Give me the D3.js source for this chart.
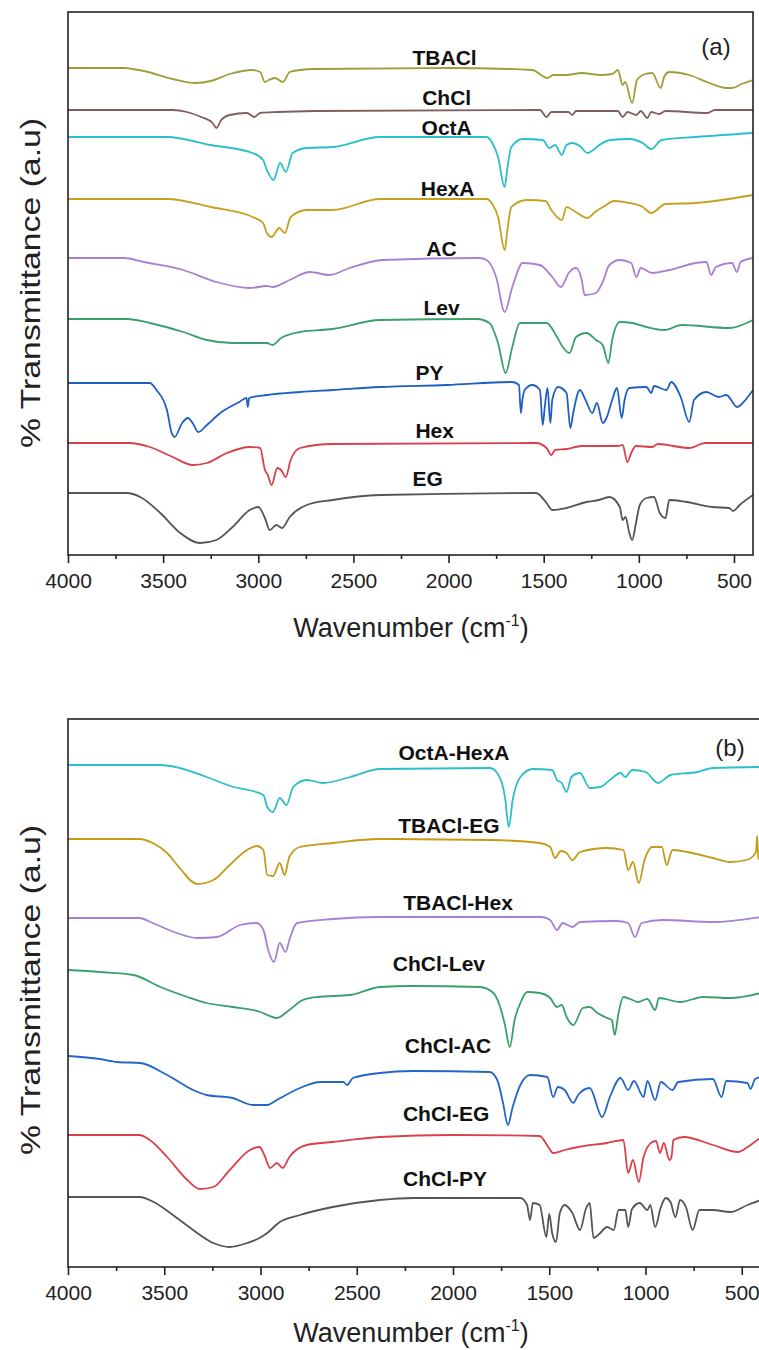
<!DOCTYPE html>
<html><head><meta charset="utf-8">
<script src="https://cdn.jsdelivr.net/npm/d3@7"></script>
<style>body{margin:0;background:#fff}svg{display:block}</style>
</head><body>
<script>
// ---------- DATA ----------
// x ticks (wavenumber, cm-1)
const majorTicks = [4000,3500,3000,2500,2000,1500,1000,500];
const minorTicks = [3750,3250,2750,2250,1750,1250,750];

// Panel (a)
const topNames   = ["TBACl","ChCl","OctA","HexA","AC","Lev","PY","Hex","EG"];
const topOffsets = [487,445,418,356,297,236,172,112,62];   // a.u. stacking offsets
const topLabelW  = [2021,2010,2010,2005,2037,2037,2100,2073,2110];
const topLabelV  = [498,458,428,367,307,248,183,125,77];
// spectra: [wavenumber, transmittance deviation (a.u.)]
const sTBACl = [[4000,0],[3700,0],[3660,-1],[3600,-3],[3450,-11],[3330,-15],[3250,-13],[3150,-6],[3030,-2],[2990,-4],[2965,-14],[2945,-12],[2913,-10],[2870,-14],[2835,-4],[2780,-2],[2700,-1],[2000,0],[1680,-1],[1560,-2],[1480,-10],[1450,-7],[1380,-7],[1300,-5],[1200,-7],[1140,-6],[1110,-2],[1085,-17],[1072,-14],[1035,-35],[1010,-12],[980,-7],[930,-5],[885,-20],[865,-8],[840,-4],[735,-7],[630,-15],[540,-20],[510,-20],[460,-16],[400,-12]];
const sChCl = [[4000,0],[3450,0],[3375,-2],[3300,-7],[3240,-13],[3220,-18],[3195,-10],[3150,-5],[3060,-3],[3020,-7],[2990,-3],[2900,-2],[2700,-1],[1520,0],[1485,-7],[1460,-2],[1370,-2],[1350,-5],[1330,-1],[1110,-1],[1085,-7],[1060,-2],[1013,-5],[990,-1],[955,-8],[935,-2],[893,-4],[860,-1],[640,-3],[600,0],[400,0]];
const sOctA = [[4000,0],[3480,0],[3250,-8],[3030,-16],[2975,-23],[2955,-33],[2920,-43],[2885,-26],[2855,-35],[2820,-16],[2745,-11],[2610,-10],[2360,0],[1800,0],[1770,-6],[1740,-20],[1705,-50],[1690,-30],[1670,-10],[1610,-2],[1505,-3],[1470,-11],[1440,-8],[1405,-18],[1380,-8],[1350,-6],[1310,-9],[1270,-16],[1240,-13],[1207,-8],[1150,-3],[1050,-2],[980,-6],[935,-12],[880,-3],[700,0],[400,4]];
const sHexA = [[4000,0],[3480,0],[3250,-8],[3030,-18],[2975,-24],[2955,-34],[2930,-38],[2890,-29],[2860,-34],[2830,-18],[2745,-11],[2610,-11],[2360,0],[1800,0],[1770,-5],[1740,-18],[1705,-51],[1690,-30],[1670,-8],[1590,-1],[1490,-2],[1460,-11],[1405,-21],[1380,-8],[1340,-12],[1270,-19],[1230,-13],[1180,-7],[1130,-2],[1050,-4],[980,-8],[935,-14],[860,-5],[700,-4],[400,4]];
const sAC = [[4000,0],[3710,0],[3600,-4],[3395,-12],[3220,-24],[3045,-30],[2955,-28],[2925,-29],[2835,-22],[2730,-14],[2625,-17],[2520,-10],[2345,-2],[1840,0],[1800,-2],[1750,-19],[1705,-54],[1665,-29],[1610,-5],[1520,-7],[1455,-19],[1410,-29],[1365,-14],[1330,-10],[1300,-22],[1285,-37],[1225,-35],[1190,-24],[1155,-7],[1100,-2],[1040,-5],[1013,-19],[990,-10],[930,-15],[840,-12],[700,-5],[645,-4],[620,-17],[595,-9],[510,-5],[485,-14],[465,-4],[400,0]];
const sLev = [[4000,0],[3690,0],[3570,-4],[3395,-13],[3270,-21],[3135,-24],[2955,-24],[2925,-26],[2880,-19],[2780,-13],[2610,-10],[2360,-1],[1850,0],[1785,-4],[1740,-24],[1700,-54],[1665,-28],[1625,-4],[1485,-4],[1430,-18],[1400,-28],[1365,-34],[1330,-18],[1275,-14],[1225,-21],[1190,-26],[1160,-44],[1140,-21],[1100,-3],[1035,-4],[960,-8],[865,-11],[775,-6],[525,-9],[400,-1]];
const sPY = [[4000,0],[3570,0],[3535,-7],[3480,-27],[3455,-50],[3440,-54],[3400,-40],[3370,-35],[3345,-40],[3315,-49],[3270,-42],[3200,-30],[3100,-19],[3062,-15],[3055,-24],[3048,-15],[2955,-12],[2780,-9],[2610,-7],[2360,-4],[2010,-2],[1665,1],[1630,-2],[1620,-30],[1612,-17],[1600,-7],[1560,-2],[1520,-7],[1505,-42],[1495,-25],[1480,-5],[1465,-40],[1455,-17],[1425,-4],[1380,-10],[1360,-45],[1345,-30],[1310,-7],[1280,-17],[1245,-30],[1220,-20],[1190,-40],[1170,-35],[1140,-17],[1115,-5],[1090,-35],[1075,-17],[1050,-5],[960,-4],[935,-10],[920,-3],[855,-7],[830,1],[780,-14],[735,-39],[710,-17],[645,-9],[580,-14],[540,-12],[483,-24],[440,-17],[400,-7]];
const sHex = [[4000,0],[3680,0],[3570,-4],[3450,-14],[3345,-22],[3270,-20],[3165,-10],[3045,-4],[2990,-5],[2965,-27],[2950,-32],[2930,-42],[2900,-25],[2880,-27],[2855,-34],[2830,-17],[2780,-5],[2610,-1],[1540,0],[1485,-5],[1460,-12],[1440,-7],[1380,-6],[1300,-3],[1110,-3],[1085,-2],[1060,-19],[1040,-10],[1015,-3],[930,-4],[900,-1],[735,-5],[650,0],[400,0]];
const sEG = [[4000,0],[3690,0],[3620,-4],[3515,-20],[3410,-40],[3305,-50],[3220,-47],[3135,-34],[3045,-17],[3000,-14],[2965,-25],[2940,-37],[2905,-32],[2875,-35],[2835,-24],[2745,-12],[2610,-7],[2360,-2],[1540,0],[1485,-10],[1455,-17],[1380,-15],[1275,-9],[1210,-7],[1155,-4],[1100,-14],[1085,-27],[1070,-24],[1050,-40],[1035,-47],[1015,-30],[995,-12],[960,-5],[920,-4],[890,-20],[860,-25],[840,-7],[750,-9],[615,-14],[525,-15],[505,-18],[470,-12],[400,-2]];
const topSpectra = [sTBACl,sChCl,sOctA,sHexA,sAC,sLev,sPY,sHex,sEG];

// Panel (b)
const botNames   = ["OctA-HexA","TBACl-EG","TBACl-Hex","ChCl-Lev","ChCl-AC","ChCl-EG","ChCl-PY"];
const botOffsets = [502,428,349,297,211,132,70];
const botLabelW  = [1995,2021,1974,2073,2026,2036,2041];
const botLabelV  = [515,442,365,304,222,154,89];
const bOctAHexA = [[4000,0],[3520,0],[3420,-3],[3280,-12],[3140,-22],[3040,-26],[2985,-30],[2965,-42],[2935,-47],[2900,-33],[2865,-40],[2830,-22],[2760,-15],[2675,-18],[2535,-12],[2380,-4],[1810,-3],[1770,-8],[1730,-32],[1710,-62],[1690,-35],[1650,-12],[1585,-4],[1485,-5],[1460,-15],[1435,-18],[1410,-27],[1385,-12],[1340,-8],[1290,-23],[1235,-22],[1185,-15],[1130,-8],[1105,-12],[1070,-5],[1000,-7],[935,-18],[870,-10],[730,-7],[650,-3],[400,-2]];
const bTBAClEG = [[4000,0],[3630,0],[3560,-4],[3485,-14],[3420,-29],[3330,-45],[3245,-41],[3160,-26],[3070,-11],[3020,-7],[2985,-11],[2965,-36],[2935,-37],[2900,-24],[2875,-36],[2850,-18],[2795,-8],[2625,-4],[2380,0],[1800,-1],[1550,-4],[1495,-8],[1470,-19],[1440,-12],[1410,-14],[1380,-21],[1340,-13],[1200,-9],[1115,-11],[1090,-31],[1065,-23],[1035,-44],[1005,-21],[965,-8],[915,-8],[890,-26],[860,-11],[785,-13],[650,-19],[560,-23],[475,-21],[440,-17],[425,-12],[420,3],[414,-20],[400,-15]];
const bTBAClHex = [[4000,0],[3630,0],[3560,-5],[3435,-15],[3330,-20],[3225,-19],[3105,-7],[3020,-5],[2985,-12],[2960,-32],[2930,-44],[2900,-25],[2870,-34],[2850,-22],[2810,-5],[2625,-1],[2380,1],[1540,1],[1495,-2],[1460,-12],[1430,-5],[1380,-9],[1340,-4],[1150,-3],[1090,-5],[1055,-19],[1020,-5],[910,-2],[650,-4],[400,1]];
const bChClLev = [[4000,0],[3835,-2],[3660,-5],[3520,-17],[3380,-27],[3280,-33],[3145,-37],[3000,-42],[2965,-45],[2915,-48],[2850,-40],[2780,-30],[2705,-27],[2535,-25],[2380,-17],[2210,-16],[1860,-17],[1790,-23],[1755,-37],[1730,-55],[1705,-77],[1680,-50],[1650,-33],[1615,-22],[1550,-23],[1495,-28],[1460,-37],[1435,-35],[1410,-47],[1375,-55],[1325,-38],[1290,-37],[1250,-43],[1200,-48],[1175,-50],[1160,-65],[1140,-43],[1115,-27],[1080,-29],[1040,-32],[990,-29],[950,-40],[930,-28],[820,-32],[700,-27],[560,-28],[400,-23]];
const bChClAC = [[4000,0],[3835,-3],[3745,-6],[3625,-7],[3485,-19],[3350,-34],[3280,-39],[3145,-42],[3040,-49],[2965,-49],[2915,-44],[2795,-32],[2690,-26],[2570,-26],[2550,-29],[2520,-22],[2380,-17],[2210,-15],[1810,-16],[1770,-24],[1740,-47],[1715,-69],[1690,-51],[1650,-29],[1600,-19],[1510,-21],[1480,-41],[1455,-31],[1420,-34],[1375,-47],[1350,-39],[1290,-32],[1225,-61],[1185,-41],[1130,-22],[1090,-34],[1060,-25],[1010,-41],[990,-25],[950,-44],[920,-26],[860,-34],[830,-26],[650,-23],[605,-41],[580,-25],[470,-27],[455,-33],[430,-23],[400,-21]];
const bChClEG = [[4000,0],[3630,0],[3575,-5],[3485,-22],[3380,-45],[3315,-54],[3245,-52],[3160,-35],[3055,-15],[3005,-12],[2980,-20],[2950,-33],[2915,-28],[2885,-33],[2850,-22],[2760,-10],[2625,-7],[2380,-2],[2000,0],[1550,-1],[1505,-12],[1480,-18],[1420,-15],[1350,-12],[1200,-8],[1115,-5],[1090,-38],[1065,-25],[1035,-47],[1010,-22],[965,-7],[945,-6],[925,-18],[905,-8],[875,-25],[865,-22],[855,-5],[800,-2],[650,-10],[520,-17],[470,-12],[400,-2]];
const bChClPY = [[4000,0],[3630,0],[3555,-5],[3455,-18],[3350,-33],[3245,-46],[3160,-50],[3070,-46],[3005,-41],[2965,-36],[2900,-25],[2795,-18],[2625,-10],[2380,-3],[2200,-1],[1650,-1],[1615,-8],[1600,-23],[1585,-6],[1550,-8],[1515,-40],[1500,-17],[1485,-36],[1465,-45],[1445,-16],[1420,-8],[1380,-16],[1340,-33],[1310,-12],[1290,-6],[1270,-41],[1235,-36],[1200,-30],[1165,-33],[1140,-13],[1105,-13],[1090,-30],[1070,-12],[1030,-6],[990,-13],[975,-8],[950,-30],[920,-10],[895,-1],[870,-5],[845,-20],[820,-3],[790,-10],[755,-33],[720,-13],[650,-13],[560,-15],[470,-8],[400,-3]];
const botSpectra = [bOctAHexA,bTBAClEG,bTBAClHex,bChClLev,bChClAC,bChClEG,bChClPY];

// ---------- STYLE ----------
const topColors = ["#9e9e38","#7e5e5e","#2bbfca","#c6a11f","#a780d2","#3aa06b","#1f5fc2","#d8414b","#555555"];
const botColors = ["#2bbfca","#c49a18","#a780d2","#3aa06b","#2466c6","#d8414b","#555555"];
const FONT = "'Liberation Sans', Arial, Helvetica, sans-serif";

const W = 759, H = 1350;
const svg = d3.select("body").append("svg").attr("width", W).attr("height", H);

function panel(cfg){
  const g = svg.append("g");
  const x = d3.scaleLinear().domain([4000, 400]).range([cfg.left, cfg.right]);
  const y = d3.scaleLinear().domain([0, cfg.bottom - cfg.top]).range([cfg.bottom, cfg.top]);
  const line = d3.line().x(d => x(d[0])).y(d => y(d[1])).curve(d3.curveMonotoneX);

  const clipId = "clip" + cfg.id;
  svg.append("clipPath").attr("id", clipId).append("rect")
    .attr("x", cfg.left).attr("y", cfg.top).attr("width", cfg.right - cfg.left).attr("height", cfg.bottom - cfg.top);

  const plot = g.append("g").attr("clip-path", `url(#${clipId})`);
  cfg.spectra.forEach((s, i) => {
    const off = cfg.offsets[i];
    plot.append("path")
      .datum(s.map(d => [d[0], off + d[1]]))
      .attr("fill", "none").attr("stroke", cfg.colors[i]).attr("stroke-width", 1.8)
      .attr("stroke-linejoin", "round").attr("d", line);
  });

  cfg.names.forEach((n, i) => {
    g.append("text").attr("x", x(cfg.labelW[i])).attr("y", y(cfg.labelV[i]))
      .attr("text-anchor", "middle").attr("dominant-baseline", "central")
      .attr("font-family", FONT).attr("font-weight", "bold").attr("font-size", 21)
      .attr("fill", "#111").text(n);
  });

  // frame
  g.append("rect").attr("x", cfg.left).attr("y", cfg.top)
    .attr("width", cfg.right - cfg.left).attr("height", cfg.bottom - cfg.top)
    .attr("fill", "none").attr("stroke", "#222").attr("stroke-width", 1.6);

  // axes
  const ax = g.append("g").attr("transform", `translate(0,${cfg.bottom})`)
    .call(d3.axisBottom(x).tickValues(majorTicks).tickSize(8).tickPadding(10).tickFormat(d3.format("d")));
  ax.select(".domain").remove();
  ax.selectAll("line").attr("stroke", "#222").attr("stroke-width", 1.6);
  ax.selectAll("text").attr("font-family", FONT).attr("font-size", 21).attr("fill", "#222");
  const mx = g.append("g").attr("transform", `translate(0,${cfg.bottom})`)
    .call(d3.axisBottom(x).tickValues(minorTicks).tickSize(4).tickFormat(""));
  mx.select(".domain").remove();
  mx.selectAll("line").attr("stroke", "#222").attr("stroke-width", 1.6);

  // x title
  const xt = g.append("text").attr("x", 411).attr("y", cfg.bottom + cfg.titleGap)
    .attr("text-anchor", "middle").attr("font-family", FONT).attr("font-size", 27).attr("fill", "#222");
  xt.append("tspan").text("Wavenumber (cm");
  xt.append("tspan").attr("font-size", 16).attr("dy", -11).text("-1");
  xt.append("tspan").attr("dy", 11).text(")");

  // y title
  g.append("text").attr("transform", `translate(${cfg.left - 38},${cfg.ycenter}) rotate(-90)`)
    .attr("text-anchor", "middle").attr("dominant-baseline", "central")
    .attr("font-family", FONT).attr("font-size", 28).attr("fill", "#222")
    .attr("textLength", 330).attr("lengthAdjust", "spacingAndGlyphs")
    .text("% Transmittance (a.u)");

  // panel tag
  g.append("text").attr("x", cfg.tagX).attr("y", cfg.tagY).attr("text-anchor", "middle")
    .attr("dominant-baseline", "central").attr("font-family", FONT).attr("font-size", 24)
    .attr("fill", "#222").text(cfg.tag);
}

panel({id: "a", left: 68, right: 753, top: 12, bottom: 555, ycenter: 283, titleGap: 82,
  names: topNames, offsets: topOffsets, spectra: topSpectra, colors: topColors,
  labelW: topLabelW, labelV: topLabelV, tag: "(a)", tagX: 716, tagY: 46});
panel({id: "b", left: 68, right: 761, top: 719, bottom: 1267, ycenter: 990, titleGap: 75,
  names: botNames, offsets: botOffsets, spectra: botSpectra, colors: botColors,
  labelW: botLabelW, labelV: botLabelV, tag: "(b)", tagX: 730, tagY: 747});
</script>
</body></html>
